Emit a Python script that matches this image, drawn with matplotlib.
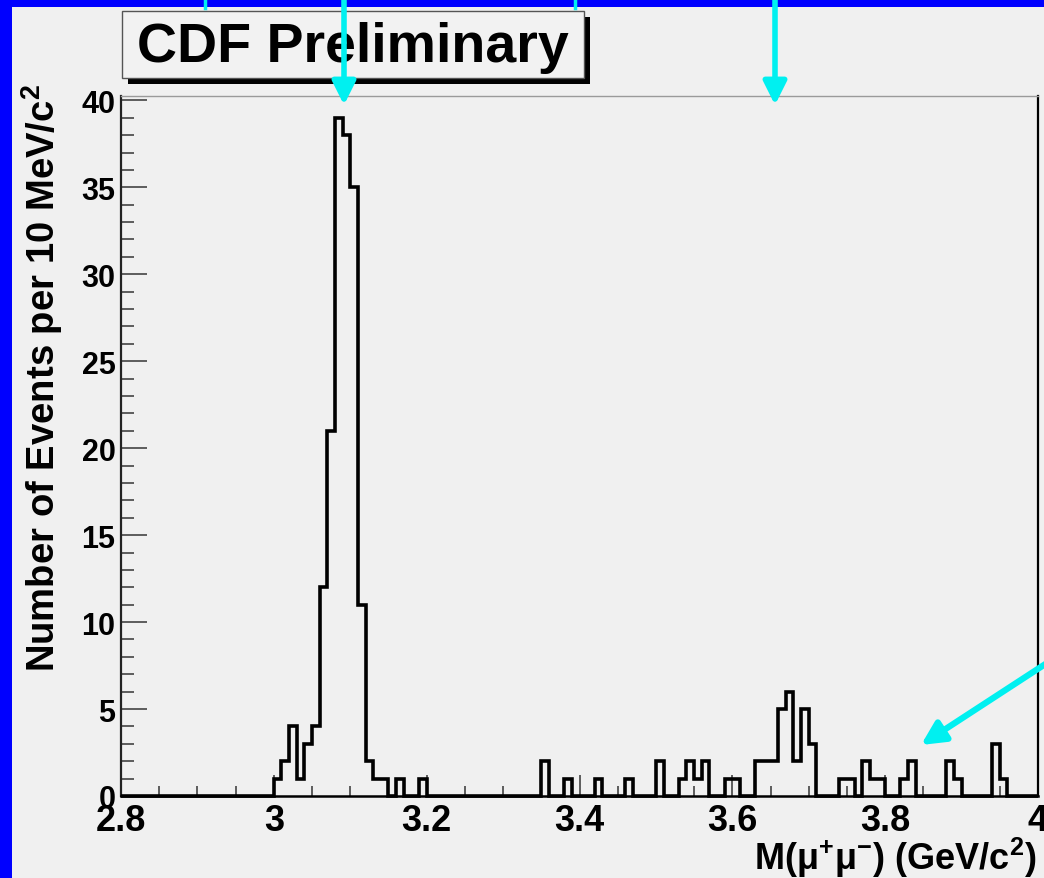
import numpy as np
import matplotlib
matplotlib.use("Agg")
import matplotlib.pyplot as plt
from matplotlib.patches import Rectangle, FancyArrowPatch
from matplotlib.lines import Line2D
from matplotlib.ticker import MultipleLocator, FixedLocator, FixedFormatter

# ---------------- data ----------------
bin_low = 2.80        # GeV/c^2
bin_width = 0.01      # 10 MeV bins
counts = [
    0, 0, 0, 0, 0, 0, 0, 0, 0, 0,      # 2.80-2.89
    0, 0, 0, 0, 0, 0, 0, 0, 0, 0,      # 2.90-2.99
    1, 2, 4, 1, 3, 4, 12, 21, 39, 38,  # 3.00-3.09
    35, 11, 2, 1, 1, 0, 1, 0, 0, 1,    # 3.10-3.19
    0, 0, 0, 0, 0, 0, 0, 0, 0, 0,      # 3.20-3.29
    0, 0, 0, 0, 0, 2, 0, 0, 1, 0,      # 3.30-3.39
    0, 0, 1, 0, 0, 0, 1, 0, 0, 0,      # 3.40-3.49
    2, 0, 0, 1, 2, 1, 2, 0, 0, 1,      # 3.50-3.59
    1, 0, 0, 2, 2, 2, 5, 6, 2, 5,      # 3.60-3.69
    3, 0, 0, 0, 1, 1, 0, 2, 1, 1,      # 3.70-3.79
    0, 0, 1, 2, 0, 0, 0, 0, 2, 1,      # 3.80-3.89
    0, 0, 0, 0, 3, 1, 0, 0, 0, 0,      # 3.90-3.99
]
x_ticks = [2.8, 3.0, 3.2, 3.4, 3.6, 3.8, 4.0]
x_tick_labels = ["2.8", "3", "3.2", "3.4", "3.6", "3.8", "4"]
y_ticks = [0, 5, 10, 15, 20, 25, 30, 35, 40]

title_text = "CDF Preliminary"
y_title = "Number of Events per 10 MeV/c$^{2}$"
x_title = "M(μ$^{+}$μ$^{-}$) (GeV/c$^{2}$)"

# ---------------- style ----------------
W, H = 1044, 879
BG = "#f0f0f0"
BLUE = "#0000ff"
CYAN = "#00f0f0"

plt.rcParams["font.family"] = ["Liberation Sans", "DejaVu Sans"]
plt.rcParams["font.weight"] = "bold"
plt.rcParams["mathtext.fontset"] = "custom"
plt.rcParams["mathtext.rm"] = "Liberation Sans:bold"
plt.rcParams["mathtext.it"] = "Liberation Sans:bold"
plt.rcParams["mathtext.bf"] = "Liberation Sans:bold"
plt.rcParams["mathtext.default"] = "rm"


def fx(x):
    return x / W


def fy(y):
    return 1 - y / H


fig = plt.figure(figsize=(W / 100, H / 100), dpi=100, facecolor=BG)

# blue slide frame
fig.add_artist(Rectangle((0, 0), fx(12), 1, transform=fig.transFigure,
                         facecolor=BLUE, edgecolor="none", zorder=0))
fig.add_artist(Rectangle((0, fy(8)), 1, 8 / H, transform=fig.transFigure,
                         facecolor=BLUE, edgecolor="none", zorder=0))

ax_l, ax_r, ax_t, ax_b = 121, 1038, 97, 797
ax = fig.add_axes([fx(ax_l), fy(ax_b), (ax_r - ax_l) / W, (ax_b - ax_t) / H])
ax.set_facecolor(BG)

edges = bin_low + bin_width * np.arange(len(counts) + 1)
ax.stairs(counts, edges, baseline=0, color="black", linewidth=2.6,
          zorder=3, clip_on=False)

ax.set_xlim(edges[0], edges[-1])
ax.set_ylim(0, 40.25)

ax.xaxis.set_major_locator(FixedLocator(x_ticks))
ax.xaxis.set_major_formatter(FixedFormatter(x_tick_labels))
ax.xaxis.set_minor_locator(MultipleLocator(0.05))
ax.yaxis.set_major_locator(FixedLocator(y_ticks))
ax.yaxis.set_minor_locator(MultipleLocator(1))

ax.tick_params(axis="x", which="major", direction="in", length=15, width=1.2,
               color="#444444", labelsize=26, pad=5, top=False)
ax.tick_params(axis="x", which="minor", direction="in", length=7.5, width=1.2,
               color="#444444", top=False)
ax.tick_params(axis="y", which="major", direction="in", length=19, width=1.2,
               color="#444444", labelsize=22, pad=4, right=False)
ax.tick_params(axis="y", which="minor", direction="in", length=9.5, width=1.2,
               color="#444444", right=False)
for lab in ax.get_xticklabels() + ax.get_yticklabels():
    lab.set_fontweight("bold")

ax.spines["left"].set_color("#222222")
ax.spines["left"].set_linewidth(1.6)
ax.spines["bottom"].set_color("black")
ax.spines["bottom"].set_linewidth(1.8)
ax.spines["right"].set_color("black")
ax.spines["right"].set_linewidth(1.6)
ax.spines["top"].set_color("#9a9a9a")
ax.spines["top"].set_linewidth(1.0)

# axis titles
fig.text(fx(42), fy(84), y_title, rotation=90, ha="center", va="top",
         fontsize=27.5, fontweight="bold", color="black")
fig.text(fx(1037), fy(858), x_title, ha="right", va="center",
         fontsize=26, fontweight="bold", color="black")

# "CDF Preliminary" box with shadow
bx0, bx1, by0, by1 = 122, 584, 12, 79
sh = 6
fig.add_artist(Rectangle((fx(bx0 + sh), fy(by1 + sh)), (bx1 - bx0) / W, (by1 - by0) / H,
                         transform=fig.transFigure, facecolor="black",
                         edgecolor="none", zorder=4))
fig.add_artist(Rectangle((fx(bx0), fy(by1)), (bx1 - bx0) / W, (by1 - by0) / H,
                         transform=fig.transFigure, facecolor="#f2f2f2",
                         edgecolor="#555555", linewidth=1.0, zorder=5))
fig.text(fx((bx0 + bx1) / 2), fy((by0 + by1) / 2 + 2), title_text,
         ha="center", va="center", fontsize=40, fontweight="bold",
         color="black", zorder=6)


# cyan annotation arrows
def arrow(x0, y0, x1, y1, lw=4.0):
    a = FancyArrowPatch((fx(x0), fy(y0)), (fx(x1), fy(y1)),
                        transform=fig.transFigure,
                        arrowstyle="-|>,head_length=0.7,head_width=0.35",
                        mutation_scale=20, color=CYAN, linewidth=lw,
                        shrinkA=0, shrinkB=0, zorder=10)
    fig.add_artist(a)


arrow(344, 0, 344, 106)
arrow(775, 0, 775, 106)
arrow(1050, 662, 921, 746, lw=4.5)
for xx in (205, 575):
    fig.add_artist(Line2D([fx(xx), fx(xx)], [fy(0), fy(9)], transform=fig.transFigure,
                          color=CYAN, linewidth=2.5, zorder=10))

fig.savefig("out.png", dpi=100, facecolor=BG)
